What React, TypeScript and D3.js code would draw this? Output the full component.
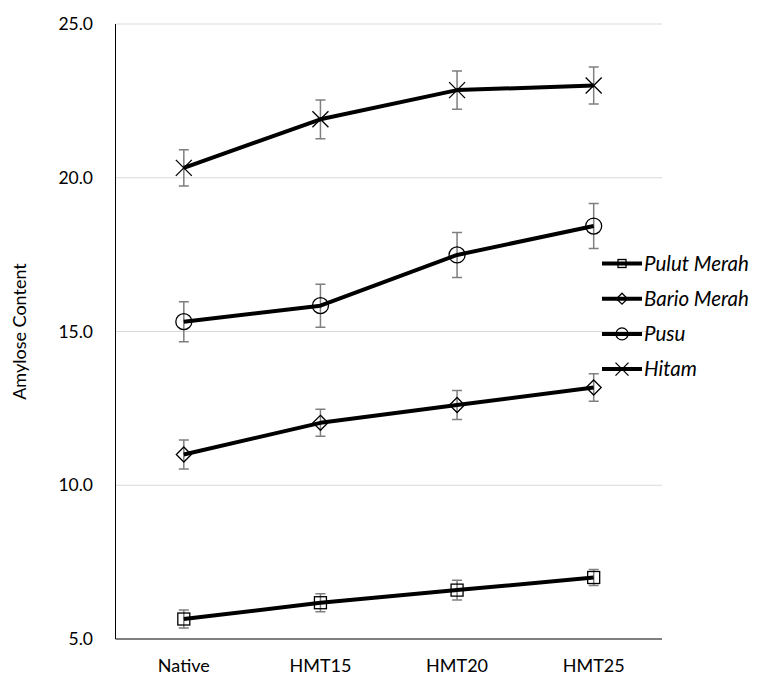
import React, { useEffect, useRef } from 'react';
import * as d3 from 'd3';

const categories = ['Native', 'HMT15', 'HMT20', 'HMT25'];
const seriesNames = ['Pulut Merah', 'Bario Merah', 'Pusu', 'Hitam'];
const markerTypes = ['square', 'diamond', 'circle', 'cross'];

const pulutMerah = [5.65, 6.18, 6.59, 7.0];
const pulutMerahErr = [0.29, 0.29, 0.32, 0.26];
const barioMerah = [11.0, 12.03, 12.61, 13.18];
const barioMerahErr = [0.47, 0.44, 0.47, 0.45];
const pusu = [15.32, 15.84, 17.49, 18.43];
const pusuErr = [0.65, 0.7, 0.73, 0.73];
const hitam = [20.32, 21.9, 22.85, 23.0];
const hitamErr = [0.59, 0.63, 0.62, 0.6];

const yTicks = [5, 10, 15, 20, 25];

const FONT = 'Lato, "Open Sans", sans-serif';

export default function App() {
  const ref = useRef<SVGSVGElement>(null);

  useEffect(() => {
    const width = 764;
    const height = 678;
    const left = 115.5;
    const right = 662;
    const top = 24;
    const bottom = 639;

    const svg = d3.select(ref.current);
    svg.selectAll('*').remove();

    const x = d3.scaleBand().domain(categories).range([left, right]);
    const y = d3.scaleLinear().domain([5, 25]).range([bottom, top]);

    // gridlines
    svg.append('g')
      .selectAll('line')
      .data(yTicks.slice(1))
      .enter()
      .append('line')
      .attr('x1', left)
      .attr('x2', right)
      .attr('y1', d => y(d))
      .attr('y2', d => y(d))
      .attr('stroke', '#d9d9d9')
      .attr('stroke-width', 1);

    // y axis
    svg.append('line')
      .attr('x1', left).attr('x2', left)
      .attr('y1', top).attr('y2', bottom)
      .attr('stroke', '#000').attr('stroke-width', 1);
    // x axis
    svg.append('line')
      .attr('x1', left).attr('x2', right)
      .attr('y1', bottom).attr('y2', bottom)
      .attr('stroke', '#000').attr('stroke-width', 1);

    svg.append('g')
      .selectAll('text')
      .data(yTicks)
      .enter()
      .append('text')
      .attr('x', 93)
      .attr('y', d => y(d))
      .attr('dy', '0.35em')
      .attr('text-anchor', 'end')
      .attr('font-family', FONT)
      .attr('font-size', 17.5)
      .attr('fill', '#000')
      .text(d => d3.format('.1f')(d));

    svg.append('g')
      .selectAll('text')
      .data(categories)
      .enter()
      .append('text')
      .attr('x', d => (x(d) as number) + x.bandwidth() / 2)
      .attr('y', 672)
      .attr('text-anchor', 'middle')
      .attr('font-family', FONT)
      .attr('font-size', 18)
      .attr('fill', '#000')
      .text(d => d);

    svg.append('text')
      .attr('transform', `translate(26,${(top + bottom) / 2}) rotate(-90)`)
      .attr('text-anchor', 'middle')
      .attr('font-family', FONT)
      .attr('font-size', 18)
      .attr('fill', '#000')
      .text('Amylose Content');

    const allData = [pulutMerah, barioMerah, pusu, hitam];
    const allErr = [pulutMerahErr, barioMerahErr, pusuErr, hitamErr];

    const cx = (i: number) => (x(categories[i]) as number) + x.bandwidth() / 2;

    const drawMarker = (g: any, type: string, px: number, py: number, s: number) => {
      if (type === 'square') {
        g.append('rect')
          .attr('x', px - s / 2).attr('y', py - s / 2)
          .attr('width', s).attr('height', s)
          .attr('fill', 'none').attr('stroke', '#000').attr('stroke-width', 1.3);
      } else if (type === 'diamond') {
        const r = s / 2 + 1.5;
        g.append('path')
          .attr('d', `M${px},${py - r}L${px + r},${py}L${px},${py + r}L${px - r},${py}Z`)
          .attr('fill', 'none').attr('stroke', '#000').attr('stroke-width', 1.3);
      } else if (type === 'circle') {
        g.append('circle')
          .attr('cx', px).attr('cy', py).attr('r', s / 2 + 2)
          .attr('fill', 'none').attr('stroke', '#000').attr('stroke-width', 1.3);
      } else {
        const r = s / 2 + 2;
        g.append('path')
          .attr('d', `M${px - r},${py - r}L${px + r},${py + r}M${px + r},${py - r}L${px - r},${py + r}`)
          .attr('fill', 'none').attr('stroke', '#000').attr('stroke-width', 1.3);
      }
    };

    const line = d3.line<number>()
      .x((d, i) => cx(i))
      .y(d => y(d));

    allData.forEach((vals, si) => {
      const g = svg.append('g');
      // error bars
      vals.forEach((v, i) => {
        const e = allErr[si][i];
        const px = cx(i);
        g.append('path')
          .attr('d', `M${px},${y(v + e)}V${y(v - e)}M${px - 5},${y(v + e)}H${px + 5}M${px - 5},${y(v - e)}H${px + 5}`)
          .attr('stroke', '#7f7f7f').attr('stroke-width', 1.5).attr('fill', 'none');
      });
      g.append('path')
        .datum(vals)
        .attr('d', line)
        .attr('fill', 'none')
        .attr('stroke', '#000')
        .attr('stroke-width', 4)
        .attr('stroke-linejoin', 'round');
      vals.forEach((v, i) => {
        drawMarker(g, markerTypes[si], cx(i), y(v), 12);
      });
    });

    // legend
    const legend = svg.append('g');
    seriesNames.forEach((name, i) => {
      const ly = 263.5 + i * 35.2;
      legend.append('line')
        .attr('x1', 602).attr('x2', 642)
        .attr('y1', ly).attr('y2', ly)
        .attr('stroke', '#000').attr('stroke-width', 4);
      drawMarker(legend, markerTypes[i], 622, ly, markerTypes[i] === 'cross' ? 9 : 8);
      legend.append('text')
        .attr('x', 644)
        .attr('y', ly)
        .attr('dy', '0.36em')
        .attr('font-family', FONT)
        .attr('font-size', 20.5)
        .attr('font-style', 'italic')
        .attr('fill', '#000')
        .text(name);
    });

    svg.attr('width', width).attr('height', height);
  }, []);

  return (
    <svg ref={ref} width={764} height={678} style={{ position: 'absolute', left: 0, top: 0, background: '#fff' }} />
  );
}
